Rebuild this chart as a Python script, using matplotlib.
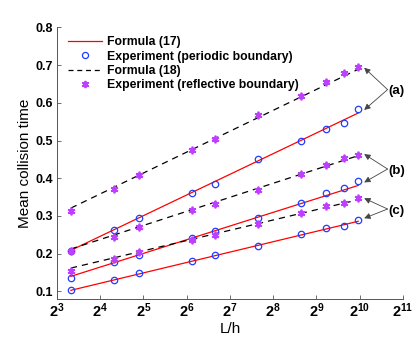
import numpy as np
import matplotlib
matplotlib.use("Agg")
import matplotlib.pyplot as plt

plt.rcParams['font.family'] = ['Liberation Sans', 'DejaVu Sans']
plt.rcParams['mathtext.fontset'] = 'custom'
plt.rcParams['mathtext.rm'] = 'Liberation Sans'
plt.rcParams['mathtext.bf'] = 'Liberation Sans:bold'

# L/h values of the experiments
Lh = np.array([10, 20, 30, 70, 100, 200, 400, 600, 800, 1000])

# experiment, periodic boundary (circles)
per_a = [0.207, 0.262, 0.295, 0.361, 0.386, 0.451, 0.500, 0.530, 0.547, 0.584]
per_b = [0.136, 0.177, 0.197, 0.241, 0.261, 0.294, 0.335, 0.361, 0.373, 0.392]
per_c = [0.103, 0.131, 0.149, 0.181, 0.197, 0.221, 0.252, 0.268, 0.274, 0.290]

# experiment, reflective boundary (stars)
ref_a = [0.312, 0.371, 0.408, 0.475, 0.503, 0.567, 0.618, 0.655, 0.678, 0.695]
ref_b = [0.207, 0.244, 0.270, 0.315, 0.333, 0.368, 0.412, 0.435, 0.453, 0.462]
ref_c = [0.153, 0.187, 0.204, 0.236, 0.250, 0.278, 0.308, 0.326, 0.334, 0.347]

# formula lines (straight in log x), end values at L/h = 10 and 1000
Lh_line = [10, 1000]
f17_a = [0.209, 0.573]
f17_b = [0.140, 0.381]
f17_c = [0.103, 0.286]
f18_a = [0.321, 0.689]
f18_b = [0.2125, 0.460]
f18_c = [0.162, 0.343]

xticks = [2**k for k in range(3, 12)]
xticklabels = [r'$\mathbf{2^{%d}}$' % k for k in range(3, 12)]
yticks = [0.1, 0.2, 0.3, 0.4, 0.5, 0.6, 0.7, 0.8]

red = '#ff0000'
blue = '#1f3dff'
violet = '#bf3fff'
star = (6, 2, 0)

fig = plt.figure(figsize=(4.15, 3.37), dpi=100)
ax = fig.add_axes([0.1373, 0.1128, 0.8337, 0.806])

# lines first, markers on top
for f in (f17_a, f17_b, f17_c):
    ax.plot(Lh_line, f, color=red, lw=0.9)
for f in (f18_a, f18_b, f18_c):
    ax.plot(Lh_line, f, color='black', lw=0.9, ls=(0, (5, 4)))
for p in (per_a, per_b, per_c):
    ax.plot(Lh, p, ls='none', marker='o', ms=4.6, mfc='none', mec=blue, mew=0.9)
for r in (ref_a, ref_b, ref_c):
    ax.plot(Lh, r, ls='none', marker=star, ms=5.5, mec=violet, mfc=violet, mew=1.3)

# legend handles
h1, = ax.plot([], [], color=red, lw=0.9)
h2, = ax.plot([], [], ls='none', marker='o', ms=4.4, mfc='none', mec=blue, mew=0.9)
h3, = ax.plot([], [], color='black', lw=0.9, ls=(0, (4, 3)))
h4, = ax.plot([], [], ls='none', marker=star, ms=5.2, mec=violet, mfc=violet, mew=1.3)
ax.legend([h1, h2, h3, h4],
          ['Formula (17)', 'Experiment (periodic boundary)',
           'Formula (18)', 'Experiment (reflective boundary)'],
          loc='upper left', bbox_to_anchor=(0.01, 0.995), frameon=False,
          prop={'weight': 'bold', 'size': 8.8}, handlelength=2.8,
          handletextpad=0.4, labelspacing=0.2, borderaxespad=0.2)

ax.set_xscale('log', base=2)
ax.set_xlim(8, 2048)
ax.set_ylim(0.08, 0.8)
ax.set_xticks(xticks)
ax.set_xticklabels(xticklabels)
ax.set_yticks(yticks)
ax.set_yticklabels(['%.1f' % v for v in yticks])
ax.minorticks_off()
ax.tick_params(direction='in', length=3, width=0.6, pad=3,
               colors='#555555', labelcolor='black')
ax.tick_params(axis='y', labelsize=9)
ax.tick_params(axis='x', labelsize=10.5, pad=2)
for lab in ax.get_yticklabels():
    lab.set_fontweight('bold')
ax.spines['top'].set_visible(False)
ax.spines['right'].set_visible(False)
for s in ('left', 'bottom'):
    ax.spines[s].set_color('#555555')
    ax.spines[s].set_linewidth(0.7)

ax.set_xlabel('L/h', fontsize=11, labelpad=1)
ax.set_ylabel('Mean collision time', fontsize=11, labelpad=2)

# annotations (a), (b), (c)
arrow = dict(arrowstyle='-|>', color='#444444', lw=0.6, mutation_scale=9,
             shrinkA=0, shrinkB=0)
groups = [('(a)', f18_a[1], f17_a[1]),
          ('(b)', f18_b[1], f17_b[1]),
          ('(c)', f18_c[1], f17_c[1])]
for name, ytop, ybot in groups:
    ymid = (ytop + ybot) / 2
    for yt in (ytop, ybot):
        ax.annotate('', xy=(1100, yt + (0.004 if yt == ytop else 0.008)),
                    xytext=(1600, ymid + 0.004), arrowprops=arrow)
    ax.text(1610, ymid - 0.001, name, fontsize=9.5, fontweight='bold',
            va='center', ha='left')

fig.savefig('out.png', dpi=100)
